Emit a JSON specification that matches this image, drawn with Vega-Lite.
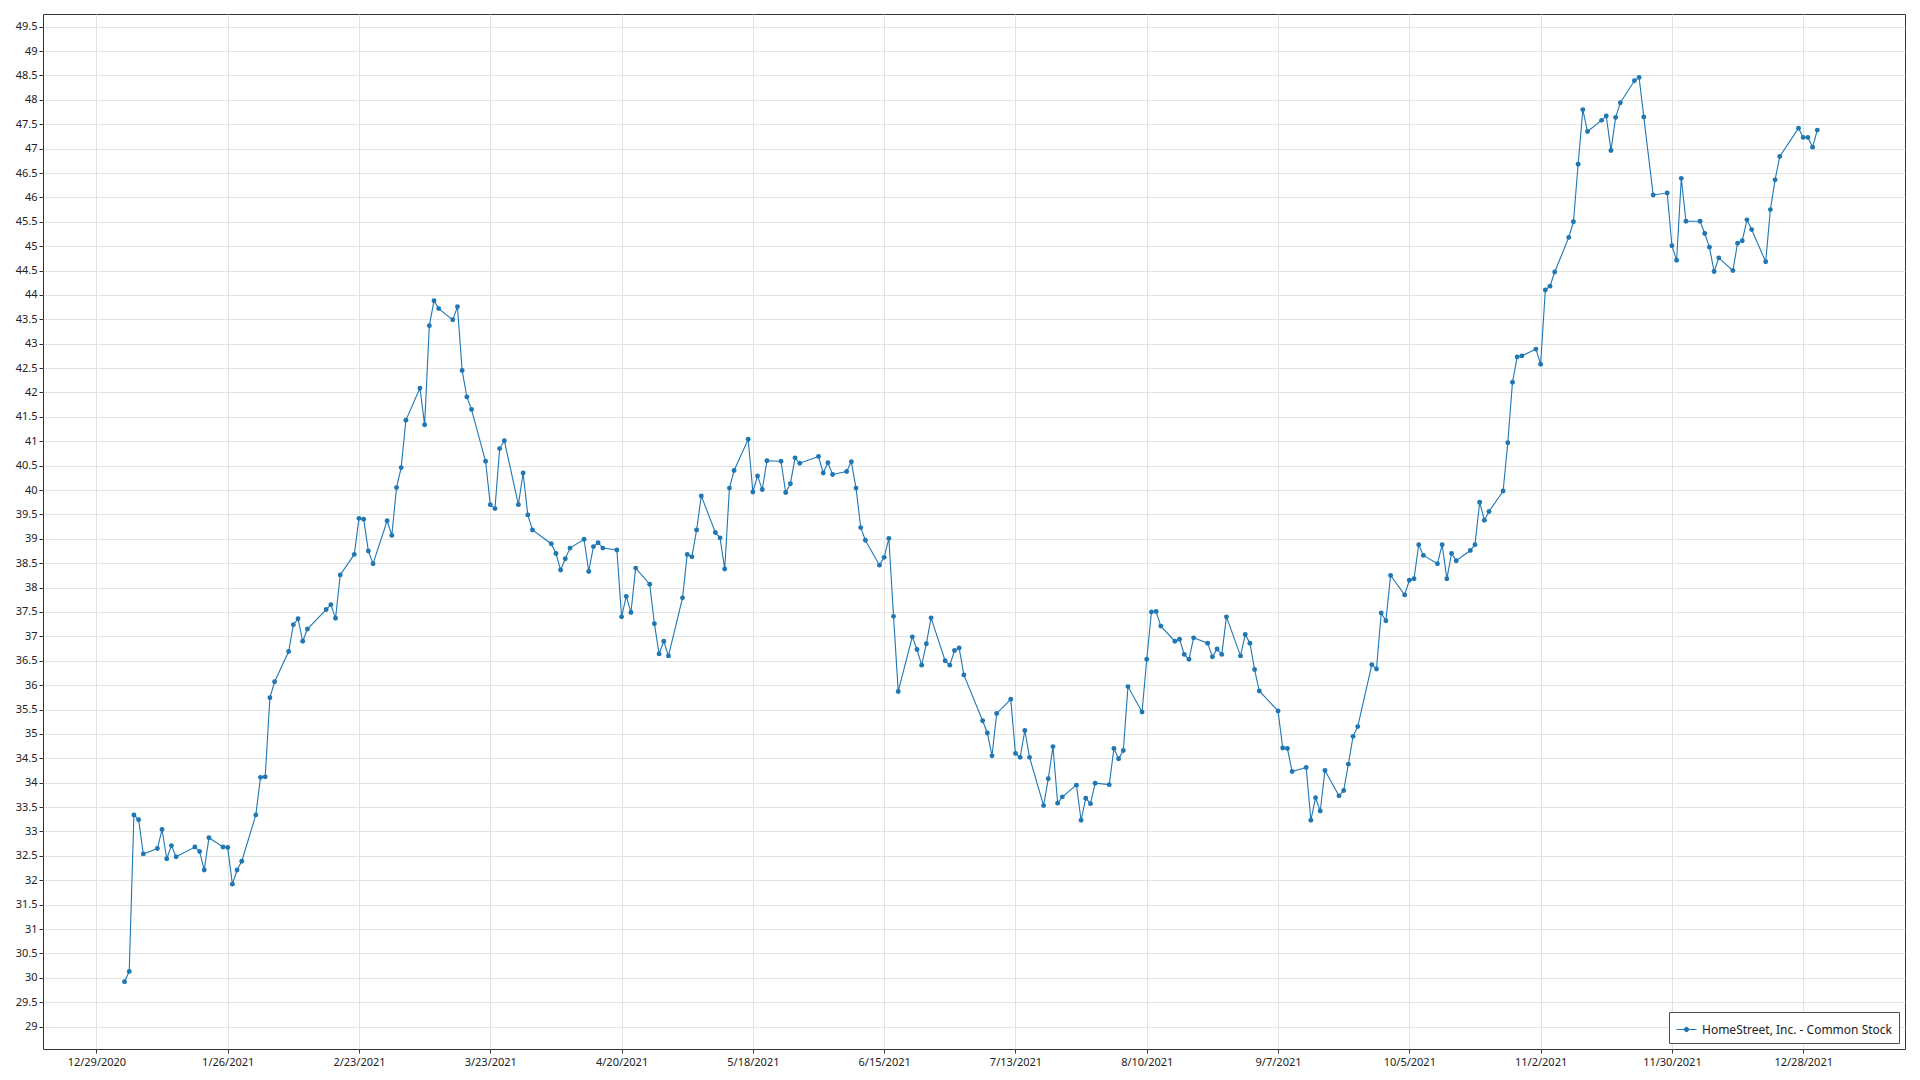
{
  "$schema": "https://vega.github.io/schema/vega-lite/v6.json",
  "width": 1862,
  "height": 1035,
  "autosize": {"type": "none"},
  "padding": {"left": 43, "top": 14, "right": 15, "bottom": 31},
  "background": "white",
  "data": {"values": [
    {"date":"2021-01-04","close":29.92},{"date":"2021-01-05","close":30.13},{"date":"2021-01-06","close":33.34},{"date":"2021-01-07","close":33.24},{"date":"2021-01-08","close":32.54},
    {"date":"2021-01-11","close":32.65},{"date":"2021-01-12","close":33.04},{"date":"2021-01-13","close":32.44},{"date":"2021-01-14","close":32.71},{"date":"2021-01-15","close":32.48},
    {"date":"2021-01-19","close":32.68},{"date":"2021-01-20","close":32.59},{"date":"2021-01-21","close":32.21},{"date":"2021-01-22","close":32.87},
    {"date":"2021-01-25","close":32.68},{"date":"2021-01-26","close":32.67},{"date":"2021-01-27","close":31.92},{"date":"2021-01-28","close":32.21},{"date":"2021-01-29","close":32.39},
    {"date":"2021-02-01","close":33.34},{"date":"2021-02-02","close":34.11},{"date":"2021-02-03","close":34.12},{"date":"2021-02-04","close":35.74},{"date":"2021-02-05","close":36.07},
    {"date":"2021-02-08","close":36.69},{"date":"2021-02-09","close":37.24},{"date":"2021-02-10","close":37.36},{"date":"2021-02-11","close":36.90},{"date":"2021-02-12","close":37.15},
    {"date":"2021-02-16","close":37.55},{"date":"2021-02-17","close":37.65},{"date":"2021-02-18","close":37.37},{"date":"2021-02-19","close":38.26},
    {"date":"2021-02-22","close":38.68},{"date":"2021-02-23","close":39.42},{"date":"2021-02-24","close":39.40},{"date":"2021-02-25","close":38.75},{"date":"2021-02-26","close":38.49},
    {"date":"2021-03-01","close":39.37},{"date":"2021-03-02","close":39.07},{"date":"2021-03-03","close":40.05},{"date":"2021-03-04","close":40.46},{"date":"2021-03-05","close":41.43},
    {"date":"2021-03-08","close":42.09},{"date":"2021-03-09","close":41.34},{"date":"2021-03-10","close":43.37},{"date":"2021-03-11","close":43.88},{"date":"2021-03-12","close":43.72},
    {"date":"2021-03-15","close":43.49},{"date":"2021-03-16","close":43.76},{"date":"2021-03-17","close":42.45},{"date":"2021-03-18","close":41.91},{"date":"2021-03-19","close":41.65},
    {"date":"2021-03-22","close":40.59},{"date":"2021-03-23","close":39.70},{"date":"2021-03-24","close":39.62},{"date":"2021-03-25","close":40.85},{"date":"2021-03-26","close":41.01},
    {"date":"2021-03-29","close":39.70},{"date":"2021-03-30","close":40.35},{"date":"2021-03-31","close":39.49},{"date":"2021-04-01","close":39.18},
    {"date":"2021-04-05","close":38.90},{"date":"2021-04-06","close":38.70},{"date":"2021-04-07","close":38.36},{"date":"2021-04-08","close":38.59},{"date":"2021-04-09","close":38.81},
    {"date":"2021-04-12","close":38.99},{"date":"2021-04-13","close":38.33},{"date":"2021-04-14","close":38.84},{"date":"2021-04-15","close":38.92},{"date":"2021-04-16","close":38.81},
    {"date":"2021-04-19","close":38.77},{"date":"2021-04-20","close":37.40},{"date":"2021-04-21","close":37.82},{"date":"2021-04-22","close":37.49},{"date":"2021-04-23","close":38.40},
    {"date":"2021-04-26","close":38.07},{"date":"2021-04-27","close":37.26},{"date":"2021-04-28","close":36.64},{"date":"2021-04-29","close":36.90},{"date":"2021-04-30","close":36.60},
    {"date":"2021-05-03","close":37.79},{"date":"2021-05-04","close":38.68},{"date":"2021-05-05","close":38.63},{"date":"2021-05-06","close":39.18},{"date":"2021-05-07","close":39.88},
    {"date":"2021-05-10","close":39.13},{"date":"2021-05-11","close":39.02},{"date":"2021-05-12","close":38.38},{"date":"2021-05-13","close":40.04},{"date":"2021-05-14","close":40.40},
    {"date":"2021-05-17","close":41.04},{"date":"2021-05-18","close":39.96},{"date":"2021-05-19","close":40.29},{"date":"2021-05-20","close":40.01},{"date":"2021-05-21","close":40.60},
    {"date":"2021-05-24","close":40.59},{"date":"2021-05-25","close":39.95},{"date":"2021-05-26","close":40.13},{"date":"2021-05-27","close":40.66},{"date":"2021-05-28","close":40.55},
    {"date":"2021-06-01","close":40.69},{"date":"2021-06-02","close":40.35},{"date":"2021-06-03","close":40.56},{"date":"2021-06-04","close":40.32},
    {"date":"2021-06-07","close":40.38},{"date":"2021-06-08","close":40.58},{"date":"2021-06-09","close":40.04},{"date":"2021-06-10","close":39.23},{"date":"2021-06-11","close":38.97},
    {"date":"2021-06-14","close":38.46},{"date":"2021-06-15","close":38.62},{"date":"2021-06-16","close":39.01},{"date":"2021-06-17","close":37.41},{"date":"2021-06-18","close":35.87},
    {"date":"2021-06-21","close":36.99},{"date":"2021-06-22","close":36.73},{"date":"2021-06-23","close":36.41},{"date":"2021-06-24","close":36.85},{"date":"2021-06-25","close":37.38},
    {"date":"2021-06-28","close":36.50},{"date":"2021-06-29","close":36.41},{"date":"2021-06-30","close":36.71},{"date":"2021-07-01","close":36.76},{"date":"2021-07-02","close":36.21},
    {"date":"2021-07-06","close":35.27},{"date":"2021-07-07","close":35.02},{"date":"2021-07-08","close":34.55},{"date":"2021-07-09","close":35.42},
    {"date":"2021-07-12","close":35.71},{"date":"2021-07-13","close":34.60},{"date":"2021-07-14","close":34.52},{"date":"2021-07-15","close":35.07},{"date":"2021-07-16","close":34.52},
    {"date":"2021-07-19","close":33.53},{"date":"2021-07-20","close":34.08},{"date":"2021-07-21","close":34.74},{"date":"2021-07-22","close":33.58},{"date":"2021-07-23","close":33.71},
    {"date":"2021-07-26","close":33.95},{"date":"2021-07-27","close":33.23},{"date":"2021-07-28","close":33.68},{"date":"2021-07-29","close":33.57},{"date":"2021-07-30","close":33.99},
    {"date":"2021-08-02","close":33.96},{"date":"2021-08-03","close":34.70},{"date":"2021-08-04","close":34.49},{"date":"2021-08-05","close":34.66},{"date":"2021-08-06","close":35.97},
    {"date":"2021-08-09","close":35.45},{"date":"2021-08-10","close":36.53},{"date":"2021-08-11","close":37.50},{"date":"2021-08-12","close":37.51},{"date":"2021-08-13","close":37.21},
    {"date":"2021-08-16","close":36.90},{"date":"2021-08-17","close":36.94},{"date":"2021-08-18","close":36.63},{"date":"2021-08-19","close":36.53},{"date":"2021-08-20","close":36.97},
    {"date":"2021-08-23","close":36.86},{"date":"2021-08-24","close":36.58},{"date":"2021-08-25","close":36.74},{"date":"2021-08-26","close":36.63},{"date":"2021-08-27","close":37.40},
    {"date":"2021-08-30","close":36.60},{"date":"2021-08-31","close":37.04},{"date":"2021-09-01","close":36.86},{"date":"2021-09-02","close":36.32},{"date":"2021-09-03","close":35.88},
    {"date":"2021-09-07","close":35.47},{"date":"2021-09-08","close":34.71},{"date":"2021-09-09","close":34.70},{"date":"2021-09-10","close":34.23},
    {"date":"2021-09-13","close":34.31},{"date":"2021-09-14","close":33.23},{"date":"2021-09-15","close":33.69},{"date":"2021-09-16","close":33.42},{"date":"2021-09-17","close":34.25},
    {"date":"2021-09-20","close":33.73},{"date":"2021-09-21","close":33.84},{"date":"2021-09-22","close":34.38},{"date":"2021-09-23","close":34.95},{"date":"2021-09-24","close":35.15},
    {"date":"2021-09-27","close":36.42},{"date":"2021-09-28","close":36.33},{"date":"2021-09-29","close":37.48},{"date":"2021-09-30","close":37.32},{"date":"2021-10-01","close":38.25},
    {"date":"2021-10-04","close":37.85},{"date":"2021-10-05","close":38.15},{"date":"2021-10-06","close":38.18},{"date":"2021-10-07","close":38.88},{"date":"2021-10-08","close":38.66},
    {"date":"2021-10-11","close":38.49},{"date":"2021-10-12","close":38.88},{"date":"2021-10-13","close":38.18},{"date":"2021-10-14","close":38.70},{"date":"2021-10-15","close":38.55},
    {"date":"2021-10-18","close":38.76},{"date":"2021-10-19","close":38.88},{"date":"2021-10-20","close":39.75},{"date":"2021-10-21","close":39.38},{"date":"2021-10-22","close":39.56},
    {"date":"2021-10-25","close":39.98},{"date":"2021-10-26","close":40.97},{"date":"2021-10-27","close":42.21},{"date":"2021-10-28","close":42.73},{"date":"2021-10-29","close":42.75},
    {"date":"2021-11-01","close":42.89},{"date":"2021-11-02","close":42.58},{"date":"2021-11-03","close":44.10},{"date":"2021-11-04","close":44.18},{"date":"2021-11-05","close":44.47},
    {"date":"2021-11-08","close":45.18},{"date":"2021-11-09","close":45.50},{"date":"2021-11-10","close":46.68},{"date":"2021-11-11","close":47.80},{"date":"2021-11-12","close":47.35},
    {"date":"2021-11-15","close":47.58},{"date":"2021-11-16","close":47.67},{"date":"2021-11-17","close":46.96},{"date":"2021-11-18","close":47.64},{"date":"2021-11-19","close":47.94},
    {"date":"2021-11-22","close":48.39},{"date":"2021-11-23","close":48.46},{"date":"2021-11-24","close":47.65},{"date":"2021-11-26","close":46.05},
    {"date":"2021-11-29","close":46.09},{"date":"2021-11-30","close":45.01},{"date":"2021-12-01","close":44.71},{"date":"2021-12-02","close":46.39},{"date":"2021-12-03","close":45.51},
    {"date":"2021-12-06","close":45.51},{"date":"2021-12-07","close":45.26},{"date":"2021-12-08","close":44.98},{"date":"2021-12-09","close":44.48},{"date":"2021-12-10","close":44.76},
    {"date":"2021-12-13","close":44.50},{"date":"2021-12-14","close":45.06},{"date":"2021-12-15","close":45.11},{"date":"2021-12-16","close":45.54},{"date":"2021-12-17","close":45.34},
    {"date":"2021-12-20","close":44.68},{"date":"2021-12-21","close":45.75},{"date":"2021-12-22","close":46.36},{"date":"2021-12-23","close":46.84},
    {"date":"2021-12-27","close":47.42},{"date":"2021-12-28","close":47.23},{"date":"2021-12-29","close":47.23},{"date":"2021-12-30","close":47.03},{"date":"2021-12-31","close":47.38}
  ]},
  "mark": {"type": "line", "strokeWidth": 1.1, "point": {"filled": true, "size": 24}},
  "encoding": {
    "x": {
      "field": "date", "type": "temporal",
      "scale": {"type": "utc", "domain": [{"year": 2020, "month": 12, "date": 17, "hours": 14, "minutes": 40, "utc": true}, {"year": 2022, "month": 1, "date": 18, "hours": 17, "utc": true}]},
      "axis": {
        "title": null,
        "values": [
          {"year": 2020, "month": 12, "date": 29, "utc": true},
          {"year": 2021, "month": 1, "date": 26, "utc": true},
          {"year": 2021, "month": 2, "date": 23, "utc": true},
          {"year": 2021, "month": 3, "date": 23, "utc": true},
          {"year": 2021, "month": 4, "date": 20, "utc": true},
          {"year": 2021, "month": 5, "date": 18, "utc": true},
          {"year": 2021, "month": 6, "date": 15, "utc": true},
          {"year": 2021, "month": 7, "date": 13, "utc": true},
          {"year": 2021, "month": 8, "date": 10, "utc": true},
          {"year": 2021, "month": 9, "date": 7, "utc": true},
          {"year": 2021, "month": 10, "date": 5, "utc": true},
          {"year": 2021, "month": 11, "date": 2, "utc": true},
          {"year": 2021, "month": 11, "date": 30, "utc": true},
          {"year": 2021, "month": 12, "date": 28, "utc": true}
        ],
        "format": "%-m/%-d/%Y",
        "labelPadding": 3,
        "labelOverlap": false,
        "labelFlush": false
      }
    },
    "y": {
      "field": "close", "type": "quantitative",
      "scale": {"domain": [28.54, 49.76], "nice": false, "zero": false},
      "axis": {
        "title": null,
        "values": [29,29.5,30,30.5,31,31.5,32,32.5,33,33.5,34,34.5,35,35.5,36,36.5,37,37.5,38,38.5,39,39.5,40,40.5,41,41.5,42,42.5,43,43.5,44,44.5,45,45.5,46,46.5,47,47.5,48,48.5,49,49.5],
        "format": "~g",
        "labelPadding": 2,
        "labelOverlap": false,
        "labelFlush": false
      }
    },
    "color": {
      "datum": "HomeStreet, Inc. - Common Stock",
      "type": "nominal",
      "scale": {"range": ["#1f77b4"]},
      "legend": {
        "title": null,
        "orient": "bottom-right",
        "offset": 6,
        "padding": 7,
        "fillColor": "white",
        "strokeColor": "#505050",
        "symbolType": "M-1,0L1,0M0.22,0A0.22,0.22,0,1,1,-0.22,0A0.22,0.22,0,1,1,0.22,0",
        "symbolSize": 400,
        "symbolStrokeWidth": 1,
        "symbolFillColor": "#1f77b4",
        "labelFontSize": 12,
        "labelOffset": 5,
        "labelLimit": 400,
        "labelFont": "Noto Sans",
        "labelColor": "#222222"
      }
    }
  },
  "config": {
    "font": "Noto Sans",
    "view": {"stroke": "#333333", "strokeWidth": 1},
    "axis": {
      "labelFont": "Noto Sans",
      "labelFontSize": 11,
      "labelColor": "#222222",
      "grid": true,
      "gridColor": "#e3e3e3",
      "gridWidth": 1,
      "tickColor": "#333333",
      "tickSize": 4,
      "domain": false
    }
  }
}
